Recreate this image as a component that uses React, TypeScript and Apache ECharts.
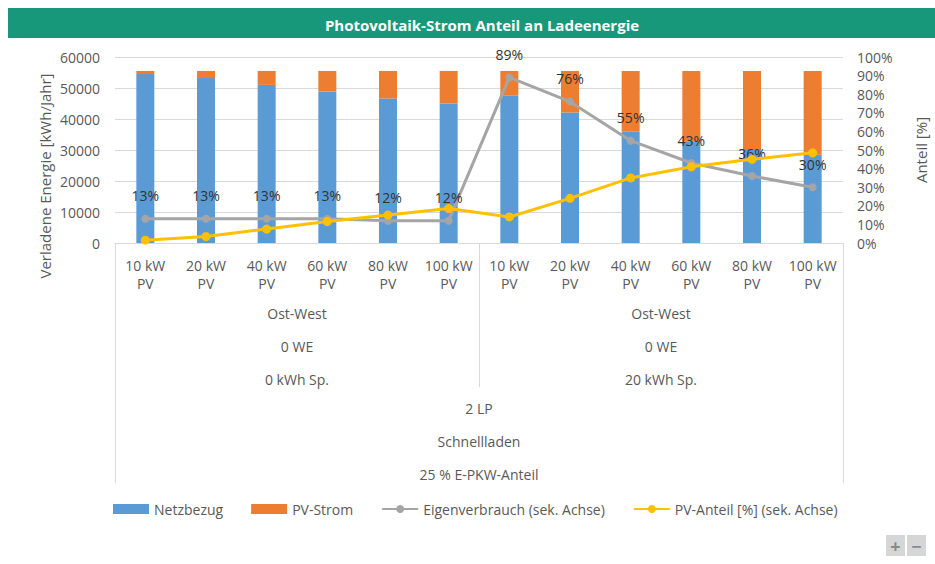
import React, { useEffect, useRef } from "react";
import * as echarts from "echarts";

const categories = [
  "10 kW\nPV", "20 kW\nPV", "40 kW\nPV", "60 kW\nPV", "80 kW\nPV", "100 kW\nPV",
  "10 kW\nPV", "20 kW\nPV", "40 kW\nPV", "60 kW\nPV", "80 kW\nPV", "100 kW\nPV",
];
const groupLabels = ["Ost-West\n0 WE\n0 kWh Sp.", "Ost-West\n0 WE\n20 kWh Sp."];
const topLabels = ["2 LP\nSchnellladen\n25 % E-PKW-Anteil"];

const netzbezug = [54500, 53200, 51000, 48900, 46600, 45000, 47500, 42100, 35900, 32700, 30300, 28500];
const pvStrom = [1000, 2300, 4500, 6600, 8900, 10500, 8000, 13400, 19600, 22800, 25200, 27000];
const eigenverbrauch = [13, 13, 13, 13, 12, 12, 89, 76, 55, 43, 36, 30];
const pvAnteil = [1.5, 3.5, 7.5, 11.5, 15, 18.5, 14, 24, 35, 41, 45, 48.5];

const leftTicks = { min: 0, max: 60000, interval: 10000 };
const rightTicks = { min: 0, max: 100, interval: 10 };

const FONT = "'Open Sans', 'Liberation Sans', sans-serif";
const GRAY = "#595959";
const GRID = "#d9d9d9";

export default function App() {
  const ref = useRef<HTMLDivElement>(null);
  useEffect(() => {
    if (!ref.current) return;
    const chart = echarts.init(ref.current, undefined, { renderer: "svg" });
    chart.setOption({
      animation: false,
      backgroundColor: "#ffffff",
      textStyle: { fontFamily: FONT },
      title: {
        text: "Photovoltaik-Strom Anteil an Ladeenergie",
        left: 477,
        top: 12,
        textAlign: "center",
        textStyle: { color: "#ffffff", fontSize: 15, fontWeight: "bold", fontFamily: FONT },
      },
      graphic: [
        { type: "rect", z: -1, shape: { x: 8, y: 8, width: 927, height: 30 }, style: { fill: "#17987a" } },
        {
          type: "text",
          x: 45,
          y: 176,
          rotation: Math.PI / 2,
          style: {
            text: "Verladene Energie [kWh/Jahr]",
            fill: GRAY,
            font: "15px " + FONT,
            textAlign: "center",
            textVerticalAlign: "middle",
          },
        },
        { type: "rect", shape: { x: 886, y: 535, width: 19, height: 21 }, style: { fill: "#d6d6d6" } },
        { type: "rect", shape: { x: 907, y: 535, width: 19, height: 21 }, style: { fill: "#d6d6d6" } },
        { type: "text", x: 895.5, y: 545.5, style: { text: "+", fill: "#8a8a8a", font: "bold 18px " + FONT, textAlign: "center", textVerticalAlign: "middle" } },
        { type: "text", x: 916.5, y: 545.5, style: { text: "\u2212", fill: "#8a8a8a", font: "bold 18px " + FONT, textAlign: "center", textVerticalAlign: "middle" } },
      ],
      grid: { left: 115, right: 92, top: 57, bottom: 321, containLabel: false, outerBoundsMode: "none" },
      legend: {
        top: 497,
        left: 108,
        itemWidth: 36,
        itemHeight: 10,
        itemGap: 28,
        textStyle: { color: GRAY, fontSize: 14, fontFamily: FONT },
        data: [
          { name: "Netzbezug", icon: "rect" },
          { name: "PV-Strom", icon: "rect" },
          { name: "Eigenverbrauch (sek. Achse)" },
          { name: "PV-Anteil [%] (sek. Achse)" },
        ],
      },
      xAxis: [
        {
          type: "category",
          data: categories,
          position: "bottom",
          axisLine: { show: true, lineStyle: { color: GRID } },
          axisTick: { show: false },
          axisLabel: { interval: 0, color: GRAY, fontSize: 14, lineHeight: 18, margin: 13 },
        },
        {
          type: "category",
          data: groupLabels,
          position: "bottom",
          offset: 0,
          axisLine: { show: false },
          axisTick: { show: true, length: 144, lineStyle: { color: GRID } },
          axisLabel: { interval: 0, color: GRAY, fontSize: 14, lineHeight: 33, margin: 54 },
        },
        {
          type: "category",
          data: topLabels,
          position: "bottom",
          offset: 0,
          axisLine: { show: false },
          axisTick: { show: true, length: 240, lineStyle: { color: GRID } },
          axisLabel: { interval: 0, color: GRAY, fontSize: 14, lineHeight: 33, margin: 149 },
        },
      ],
      yAxis: [
        {
          type: "value",
          ...leftTicks,
          position: "left",
          axisLine: { show: false },
          axisTick: { show: false },
          splitLine: { lineStyle: { color: GRID } },
          axisLabel: { color: GRAY, fontSize: 14, margin: 15, formatter: (v: number) => String(v) },
        },
        {
          type: "value",
          ...rightTicks,
          position: "right",
          axisLine: { show: false },
          axisTick: { show: false },
          splitLine: { show: false },
          axisLabel: { color: GRAY, fontSize: 14, margin: 14, formatter: "{value}%" },
          name: "Anteil [%]",
          nameLocation: "middle",
          nameRotate: 90,
          nameGap: 70,
          nameTextStyle: { color: GRAY, fontSize: 15 },
        },
      ],
      series: [
        {
          name: "Netzbezug",
          type: "bar",
          stack: "energie",
          barWidth: 18,
          data: netzbezug,
          itemStyle: { color: "#5b9bd5" },
        },
        {
          name: "PV-Strom",
          type: "bar",
          stack: "energie",
          barWidth: 18,
          data: pvStrom,
          itemStyle: { color: "#ed7d31" },
        },
        {
          name: "Eigenverbrauch (sek. Achse)",
          type: "line",
          yAxisIndex: 1,
          data: eigenverbrauch,
          symbol: "circle",
          symbolSize: 8,
          lineStyle: { color: "#a5a5a5", width: 3 },
          itemStyle: { color: "#a5a5a5" },
          label: {
            show: true,
            position: "top",
            distance: 12,
            formatter: "{c}%",
            color: "#333333",
            fontSize: 14,
          },
          z: 3,
        },
        {
          name: "PV-Anteil [%] (sek. Achse)",
          type: "line",
          yAxisIndex: 1,
          data: pvAnteil,
          symbol: "circle",
          symbolSize: 9,
          lineStyle: { color: "#ffc000", width: 3 },
          itemStyle: { color: "#ffc000" },
          z: 4,
        },
      ],
    });
    return () => chart.dispose();
  }, []);
  return (
    <div
      ref={ref}
      style={{ position: "fixed", left: 0, top: 0, width: 935, height: 564, background: "#fff" }}
    />
  );
}
